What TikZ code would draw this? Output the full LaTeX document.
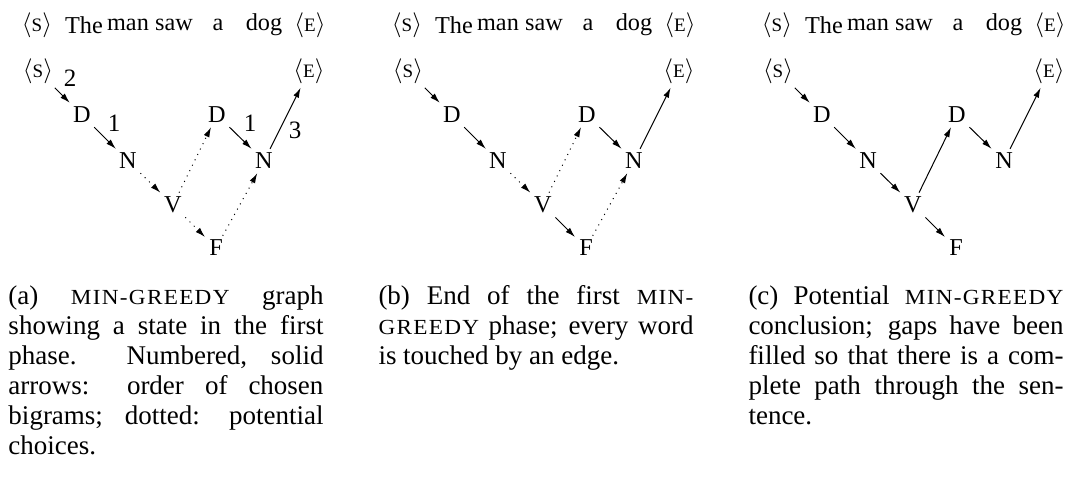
\documentclass[tikz,border=0pt]{standalone}
\usepackage{fontspec}
\setmainfont{Liberation Serif}
\newfontfamily\scfont[FakeStretch=1.08,LetterSpace=6]{Liberation Serif}
\usetikzlibrary{arrows.meta}
\newcommand\smc[1]{{\fontsize{7.6}{9.6}\selectfont #1}}
\newcommand\mgr[1]{{\scfont\fontsize{8.6}{12}\selectfont #1}}
\newcommand\bt[1]{\ensuremath{\langle}\smc{#1}\ensuremath{\rangle}}
\begin{document}
\begin{tikzpicture}[x=0.4pt,y=-0.4pt,
  lbl/.style={inner sep=1.5pt,font=\fontsize{9.7}{11}\selectfont},
  num/.style={inner sep=0pt},
  sol/.style={-{Latex[length=4pt,width=2.4pt]}},
  dotarr/.style={sol,dotted},
  captxt/.style={anchor=base west,inner sep=0pt,text width=126pt,align=justify,
    font=\fontsize{10.8}{12}\selectfont}]
\useasboundingbox (0,0) rectangle (1068,487);
\foreach \p/\o in {a/0,b/370,c/740}{
  % sentence line
  \node[lbl] (\p w0) at (\o+37,25) {\bt{S}};
  \node[lbl] (\p w1) at (\o+84,25) {The};
  \node[lbl] (\p w2) at (\o+128,25) {man};
  \node[lbl] (\p w3) at (\o+174,25) {saw};
  \node[lbl] (\p w4) at (\o+218,25) {a};
  \node[lbl] (\p w5) at (\o+264,25) {dog};
  \node[lbl] (\p w6) at (\o+310,25) {\bt{E}};
  % tag graph
  \node[lbl] (\p S)  at (\o+38,71)   {\bt{S}};
  \node[lbl] (\p D1) at (\o+82,115)  {D};
  \node[lbl] (\p N1) at (\o+128,161) {N};
  \node[lbl] (\p V)  at (\o+173,205) {V};
  \node[lbl] (\p F)  at (\o+216,248) {F};
  \node[lbl] (\p D2) at (\o+217,115) {D};
  \node[lbl] (\p N2) at (\o+264,161) {N};
  \node[lbl] (\p E)  at (\o+309,71)  {\bt{E}};
}
% (a)
\draw[sol] (aS) -- (aD1);
\draw[sol] (aD1) -- (aN1);
\draw[dotarr] (aN1) -- (aV);
\draw[dotarr] (aV) -- (aF);
\draw[dotarr] (aV) -- (aD2);
\draw[dotarr] (aF) -- (aN2);
\draw[sol] (aD2) -- (aN2);
\draw[sol] (aN2) -- (aE);
\node[num] (n2) at (70,78) {2};
\node[num] (n1a) at (114,123) {1};
\node[num] (n1b) at (250,123) {1};
\node[num] (n3) at (295,130) {3};
% (b)
\draw[sol] (bS) -- (bD1);
\draw[sol] (bD1) -- (bN1);
\draw[dotarr] (bN1) -- (bV);
\draw[sol] (bV) -- (bF);
\draw[dotarr] (bV) -- (bD2);
\draw[dotarr] (bF) -- (bN2);
\draw[sol] (bD2) -- (bN2);
\draw[sol] (bN2) -- (bE);
% (c)
\draw[sol] (cS) -- (cD1);
\draw[sol] (cD1) -- (cN1);
\draw[sol] (cN1) -- (cV);
\draw[sol] (cV) -- (cF);
\draw[sol] (cV) -- (cD2);
\draw[sol] (cD2) -- (cN2);
\draw[sol] (cN2) -- (cE);
% captions
\node[captxt] (capa) at (8,304) {(a) \mgr{MIN-GREEDY} graph\linebreak showing a state in the first\linebreak phase. Numbered, solid\linebreak arrows: order of chosen\linebreak bigrams; dotted: potential\linebreak choices.};
\node[captxt] (capb) at (378,304) {(b) End of the first \mgr{MIN-}\linebreak \mgr{GREEDY} phase; every word\linebreak is touched by an edge.};
\node[captxt] (capc) at (748,304) {(c) Potential \mgr{MIN-GREEDY}\linebreak conclusion; gaps have been\linebreak filled so that there is a com-\linebreak plete path through the sen-\linebreak tence.};
\end{tikzpicture}
\end{document}
